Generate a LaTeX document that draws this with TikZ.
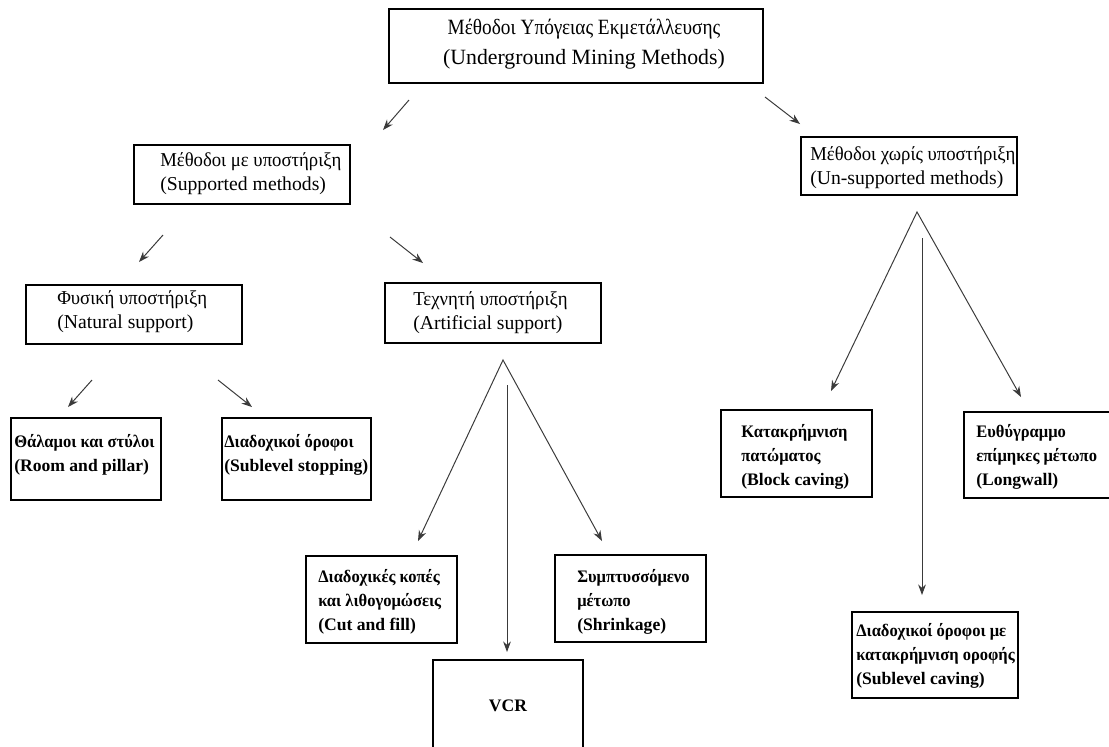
\documentclass[tikz,border=0pt]{standalone}
\usepackage{fontspec}
\setmainfont{Liberation Serif}
\newfontfamily\titlegreek[FakeStretch=0.885]{Liberation Serif}
\newfontfamily\headgreek[FakeStretch=0.95]{Liberation Serif}
\newfontfamily\leafgreek[FakeStretch=0.94]{Liberation Serif}
\usetikzlibrary{arrows.meta,positioning,calc}
\definecolor{ArrowGray}{HTML}{3a3a3a}

\tikzset{
  methodbox/.style 2 args={draw=black, line width=0.8pt, inner sep=0pt,
    minimum width=#1*0.025cm, minimum height=#2*0.025cm},
  titletext/.style={font=\fontsize{15.5}{21.5}\selectfont, align=center, inner sep=0pt},
  headtext/.style={font=\fontsize{14}{17}\selectfont, align=left, anchor=west, inner sep=0pt},
  leaftext/.style={font=\fontsize{12.5}{17}\selectfont\bfseries, align=left, anchor=west, inner sep=0pt},
  branch/.style={draw=ArrowGray, line width=0.7pt, -{Stealth[length=7.5pt,width=5.5pt]}},
  fork/.style={draw=ArrowGray, line width=0.7pt, {Stealth[length=7.5pt,width=5.5pt]}-{Stealth[length=7.5pt,width=5.5pt]}},
}

\begin{document}
\begin{tikzpicture}[x=0.025cm, y=-0.025cm]
  \path[use as bounding box, clip] (0,0) rectangle (1109,746);

  % boxes
  \node[methodbox={374}{74}] (root) at (576,46) {};
  \node[methodbox={216}{59}] (supported) at (242,174.5) {};
  \node[methodbox={216}{58}] (unsupported) at (909,166) {};
  \node[methodbox={216}{59}] (natural) at (134,314.5) {};
  \node[methodbox={216}{60}] (artificial) at (493,313) {};
  \node[methodbox={150}{82}] (room) at (86,459) {};
  \node[methodbox={149}{82}] (stopping) at (296.5,459) {};
  \node[methodbox={151}{87}] (cutfill) at (381.5,599.5) {};
  \node[methodbox={151}{87}] (shrinkage) at (630.5,598.5) {};
  \node[methodbox={150}{140}] (vcr) at (508,730) {};
  \node[methodbox={151}{87}] (block) at (796.5,453.5) {};
  \node[methodbox={151}{86}] (longwall) at (1039.5,455) {};
  \node[methodbox={166}{86}] (caving) at (935,655) {};

  % texts
  \node[titletext] at (584,44) {{\titlegreek Μέθοδοι Υπόγειας Εκμετάλλευσης}\\(Underground Mining Methods)};
  \node[headtext] at (160,174) {{\headgreek Μέθοδοι με υποστήριξη}\\(Supported methods)};
  \node[headtext] at (810,168) {{\headgreek Μέθοδοι χωρίς υποστήριξη}\\(Un-supported methods)};
  \node[headtext] at (57,312) {{\headgreek Φυσική υποστήριξη}\\(Natural support)};
  \node[headtext] at (413,313) {{\headgreek Τεχνητή υποστήριξη}\\(Artificial support)};
  \node[leaftext] at (14,455) {{\leafgreek Θάλαμοι και στύλοι}\\(Room and pillar)};
  \node[leaftext] at (224,455) {{\leafgreek Διαδοχικοί όροφοι}\\(Sublevel stopping)};
  \node[leaftext] at (318,602) {{\leafgreek Διαδοχικές κοπές}\\{\leafgreek και λιθογομώσεις}\\(Cut and fill)};
  \node[leaftext] at (577,602) {{\leafgreek Συμπτυσσόμενο}\\{\leafgreek μέτωπο}\\(Shrinkage)};
  \node[font=\fontsize{12.5}{17}\selectfont\bfseries] at (508,706) {VCR};
  \node[leaftext] at (741,457) {{\leafgreek Κατακρήμνιση}\\{\leafgreek πατώματος}\\(Block caving)};
  \node[leaftext] at (976,457) {{\leafgreek Ευθύγραμμο}\\{\leafgreek επίμηκες μέτωπο}\\(Longwall)};
  \node[leaftext] at (856,656) {{\leafgreek Διαδοχικοί όροφοι με}\\{\leafgreek κατακρήμνιση οροφής}\\(Sublevel caving)};

  % arrow ends
  \coordinate (rootL) at (409,100);   \coordinate (supTip) at (383,130);
  \coordinate (rootR) at (765,97);    \coordinate (unsTip) at (800,124);
  \coordinate (supL) at (163,235);    \coordinate (natTip) at (139,262);
  \coordinate (supR) at (390,237);    \coordinate (artTip) at (423,263);
  \coordinate (natL) at (92,380);     \coordinate (roomTip) at (68,407);
  \coordinate (natR) at (218,380);    \coordinate (stopTip) at (252,407);
  \coordinate (artApex) at (503,360);
  \coordinate (cutTip) at (418,541);  \coordinate (shrTip) at (602,541);
  \coordinate (artMid) at (507,385);  \coordinate (vcrTip) at (507,652);
  \coordinate (unsApex) at (917,212);
  \coordinate (blkTip) at (831,391);  \coordinate (lwTip) at (1021,397);
  \coordinate (unsMid) at (922,238);  \coordinate (cavTip) at (922,595);

  \draw[branch] (rootL) -- (supTip);
  \draw[branch] (rootR) -- (unsTip);
  \draw[branch] (supL) -- (natTip);
  \draw[branch] (supR) -- (artTip);
  \draw[branch] (natL) -- (roomTip);
  \draw[branch] (natR) -- (stopTip);
  \draw[fork] (cutTip) -- (artApex) -- (shrTip);
  \draw[branch] (artMid) -- (vcrTip);
  \draw[fork] (blkTip) -- (unsApex) -- (lwTip);
  \draw[branch] (unsMid) -- (cavTip);
\end{tikzpicture}
\end{document}
